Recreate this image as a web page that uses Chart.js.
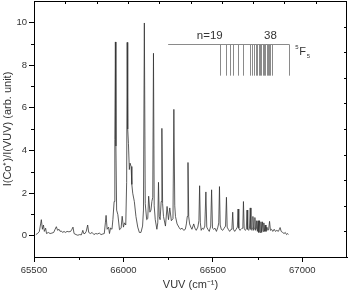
<!DOCTYPE html>
<html>
<head>
<meta charset="utf-8">
<script src="https://cdn.jsdelivr.net/npm/chart.js@4/dist/chart.umd.min.js"></script>
<style>
  html, body { margin: 0; padding: 0; background: #fff; }
  #wrap { width: 350px; height: 294px; }
</style>
</head>
<body>
<div id="wrap"><canvas id="spec"></canvas></div>
<script>
// VUV wavenumber (cm-1) and ion signal
const wavenumber = [
  65510, 65520, 65530, 65537, 65541, 65547, 65553, 65558, 65565, 65570,
  65580, 65590, 65600, 65610, 65618, 65625, 65632, 65640, 65646, 65653,
  65660, 65668, 65675, 65685, 65695, 65705, 65712, 65718, 65724, 65735,
  65745, 65755, 65765, 65773, 65778, 65785, 65792, 65800, 65806, 65815,
  65825, 65835, 65845, 65855, 65865, 65875, 65885, 65893, 65899, 65903,
  65909, 65917, 65922, 65928, 65936, 65941, 65948, 65952, 65955, 65958,
  65962, 65969, 65978, 65987, 65993, 66000, 66006, 66013, 66018, 66021,
  66024, 66028, 66033, 66037, 66043, 66047, 66052, 66061, 66070, 66080,
  66089, 66098, 66107, 66112, 66117, 66122, 66130, 66136, 66141, 66148,
  66154, 66159, 66164, 66168, 66172, 66178, 66187, 66192, 66196, 66200,
  66205, 66211, 66215, 66219, 66224, 66235, 66244, 66252, 66259, 66268,
  66277, 66282, 66287, 66291, 66300, 66310, 66318, 66328, 66337, 66346,
  66352, 66357, 66361, 66365, 66370, 66377, 66383, 66393, 66400, 66407,
  66416, 66422, 66426, 66430, 66435, 66441, 66448, 66455, 66461, 66466,
  66472, 66480, 66488, 66493, 66498, 66505, 66512, 66520, 66528, 66533,
  66537, 66541, 66547, 66555, 66563, 66571, 66576, 66580, 66586, 66594,
  66602, 66607, 66611, 66615, 66622, 66630, 66637, 66641, 66645, 66651,
  66658, 66664, 66668, 66671, 66675, 66681, 66687, 66691, 66695, 66700,
  66705, 66709, 66713, 66718, 66721, 66724, 66728, 66732, 66735, 66739,
  66742, 66745, 66749, 66753, 66757, 66761, 66765, 66769, 66773, 66777,
  66781, 66785, 66789, 66793, 66797, 66802, 66808, 66812, 66817, 66822,
  66828, 66835, 66843, 66850, 66858, 66866, 66872, 66876, 66882, 66890,
  66898, 66905, 66912, 66918, 66922
];
const signal = [
  0.05, 0.10, 0.20, 0.55, 0.75, 0.30, 0.50, 0.20, 0.35, 0.10,
  0.15, 0.10, 0.12, 0.15, 0.30, 0.42, 0.25, 0.30, 0.20, 0.22,
  0.15, 0.20, 0.15, 0.20, 0.18, 0.20, 0.30, 0.40, 0.10, 0.05,
  0.02, 0.05, 0.04, 0.25, 0.10, 0.10, 0.20, 0.50, 0.15, 0.10,
  0.15, 0.05, 0.10, 0.08, 0.12, 0.05, 0.08, 0.10, 0.60, 0.95,
  0.30, 0.40, 0.10, 0.36, 0.30, 0.75, 1.60, 4.50, 9.08, 4.20,
  1.20, 0.98, 0.28, 0.35, 0.91, 0.40, 0.60, 0.50, 2.50, 9.06,
  5.00, 4.33, 3.10, 3.40, 3.24, 2.40, 1.99, 1.60, 0.90, 0.40,
  0.15, 0.15, 0.45, 1.20, 9.97, 1.50, 0.75, 0.80, 1.85, 1.10,
  1.20, 1.60, 1.80, 8.55, 1.40, 0.75, 0.30, 0.60, 2.50, 0.90,
  0.75, 1.60, 5.03, 1.50, 0.90, 0.45, 1.37, 0.75, 1.30, 0.70,
  0.80, 5.92, 1.40, 0.90, 0.55, 0.40, 0.30, 0.35, 0.25, 0.30,
  0.55, 0.90, 3.43, 0.90, 0.55, 0.40, 0.30, 0.55, 0.35, 0.25,
  0.40, 0.70, 2.34, 0.60, 0.25, 0.35, 0.30, 0.45, 2.05, 0.40,
  0.30, 0.20, 0.45, 2.15, 0.35, 0.30, 0.35, 0.20, 0.40, 0.60,
  2.30, 0.50, 0.30, 0.25, 0.35, 0.45, 1.80, 0.40, 0.30, 0.20,
  0.30, 0.40, 1.10, 0.30, 0.20, 0.30, 0.40, 1.25, 0.35, 0.25,
  0.30, 0.35, 0.50, 1.60, 0.35, 0.25, 0.30, 1.20, 0.30, 0.25,
  0.35, 1.30, 0.30, 0.25, 0.35, 0.90, 0.25, 0.35, 0.85, 0.25,
  0.35, 0.70, 0.20, 0.70, 0.15, 0.70, 0.15, 0.65, 0.15, 0.65,
  0.20, 0.60, 0.20, 0.50, 0.20, 0.40, 0.25, 0.30, 0.67, 0.25,
  0.30, 0.20, 0.30, 0.20, 0.25, 0.20, 0.30, 0.38, 0.20, 0.15,
  0.10, 0.15, 0.05, 0.10, 0.05
];

// Rydberg series markers (n=19 ... 38) and the series limit
const seriesLines = [
  66539, 66574, 66594, 66615, 66639, 66668, 66706, 66717, 66728, 66741,
  66749, 66756, 66763, 66771, 66778, 66785, 66793, 66800, 66807, 66815,
  66822, 66829
];
const seriesLimit = 66928;
const seriesStart = 66250;
const seriesTop = 9.0;
const seriesBottom = 7.5;

const xTicks = [65500, 66000, 66500, 67000];
const xMinor = [65750, 66250, 66750];
const yTicks = [0, 2, 4, 6, 8, 10];
const yMinor = [1, 3, 5, 7, 9];
const topTicks = [65675, 65850, 66025, 66200, 66375, 66550, 66725, 66900, 67075];
const rightTicks = [0.2, 1.4, 2.6, 3.8, 5.0, 6.2, 7.4, 8.6, 9.8];

const FONT = '"Liberation Sans", Arial, sans-serif';

const framePlugin = {
  id: 'frame',
  afterDraw(chart) {
    const { ctx, chartArea: a, scales: { x, y } } = chart;
    ctx.save();
    ctx.strokeStyle = '#000';
    ctx.lineWidth = 1;
    ctx.beginPath();
    ctx.moveTo(a.left, a.top + 0.5);
    ctx.lineTo(a.right, a.top + 0.5);
    ctx.moveTo(a.right - 0.5, a.top);
    ctx.lineTo(a.right - 0.5, a.bottom);
    // minor ticks, outward
    xMinor.forEach((v) => {
      const px = Math.round(x.getPixelForValue(v)) + 0.5;
      ctx.moveTo(px, a.bottom);
      ctx.lineTo(px, a.bottom + 3);
    });
    yMinor.forEach((v) => {
      const py = Math.round(y.getPixelForValue(v)) + 0.5;
      ctx.moveTo(a.left, py);
      ctx.lineTo(a.left - 3, py);
    });
    // top and right ticks, inward
    topTicks.forEach((v) => {
      const px = Math.round(x.getPixelForValue(v)) + 0.5;
      ctx.moveTo(px, a.top);
      ctx.lineTo(px, a.top + 3);
    });
    rightTicks.forEach((v) => {
      const py = Math.round(y.getPixelForValue(v)) + 0.5;
      ctx.moveTo(a.right, py);
      ctx.lineTo(a.right - 3, py);
    });
    ctx.stroke();

    // series marker comb
    const yt = Math.round(y.getPixelForValue(seriesTop)) + 0.5;
    const yb = y.getPixelForValue(seriesBottom);
    ctx.strokeStyle = '#8a8a8a';
    ctx.beginPath();
    ctx.moveTo(x.getPixelForValue(seriesStart), yt);
    ctx.lineTo(x.getPixelForValue(seriesLimit), yt);
    seriesLines.concat([seriesLimit]).forEach((v) => {
      const px = Math.round(x.getPixelForValue(v)) + 0.5;
      ctx.moveTo(px, yt);
      ctx.lineTo(px, yb);
    });
    ctx.stroke();

    ctx.fillStyle = '#333';
    ctx.textAlign = 'center';
    ctx.textBaseline = 'alphabetic';
    ctx.font = '11.5px ' + FONT;
    ctx.fillText('n=19', x.getPixelForValue(66483), y.getPixelForValue(9.2));
    ctx.fillText('38', x.getPixelForValue(66822), y.getPixelForValue(9.2));
    ctx.textAlign = 'left';
    const fx = x.getPixelForValue(66983);
    const fy = y.getPixelForValue(8.46);
    ctx.font = '11px ' + FONT;
    ctx.fillText('F', fx, fy);
    ctx.font = '6px ' + FONT;
    ctx.fillText('5', fx - 4, fy - 6);
    ctx.fillText('5', fx + 7.5, fy + 3);
    ctx.restore();
  }
};

new Chart(document.getElementById('spec'), {
  type: 'line',
  data: {
    datasets: [{
      data: wavenumber.map((w, i) => ({ x: w, y: signal[i] })),
      borderColor: '#333',
      borderWidth: 0.8,
      pointRadius: 0,
      tension: 0,
      fill: false,
    }],
  },
  options: {
    responsive: true,
    maintainAspectRatio: false,
    animation: false,
    events: [],
    layout: { padding: { top: 1, right: 3, left: 0, bottom: 0 } },
    plugins: { legend: { display: false }, tooltip: { enabled: false } },
    scales: {
      x: {
        type: 'linear',
        min: 65500,
        max: 67250,
        afterBuildTicks: (s) => { s.ticks = xTicks.map((v) => ({ value: v })); },
        afterFit: (s) => { s.height = 37; s.paddingLeft = 0; s.paddingRight = 0; },
        ticks: {
          color: '#333',
          padding: 3,
          maxRotation: 0,
          font: { family: FONT, size: 9.5 },
          callback: (v) => String(v),
        },
        grid: { drawOnChartArea: false, drawTicks: true, tickLength: 5, color: '#000' },
        border: { display: true, color: '#000', width: 1 },
        title: {
          display: true,
          text: 'VUV (cm⁻¹)',
          color: '#333',
          font: { family: FONT, size: 11 },
          padding: { top: 0, bottom: 2 },
        },
      },
      y: {
        type: 'linear',
        min: -1,
        max: 11,
        afterBuildTicks: (s) => { s.ticks = yTicks.map((v) => ({ value: v })); },
        afterFit: (s) => { s.width = 34; s.paddingTop = 0; s.paddingBottom = 0; },
        ticks: {
          color: '#333',
          padding: 2,
          font: { family: FONT, size: 9.5 },
          callback: (v) => String(v),
        },
        grid: { drawOnChartArea: false, drawTicks: true, tickLength: 5, color: '#000' },
        border: { display: true, color: '#000', width: 1 },
        title: {
          display: true,
          text: 'I(Co⁺)/I(VUV) (arb. unit)',
          color: '#333',
          font: { family: FONT, size: 11 },
          padding: { top: 1, bottom: 0 },
        },
      },
    },
  },
  plugins: [framePlugin],
});
</script>
</body>
</html>
